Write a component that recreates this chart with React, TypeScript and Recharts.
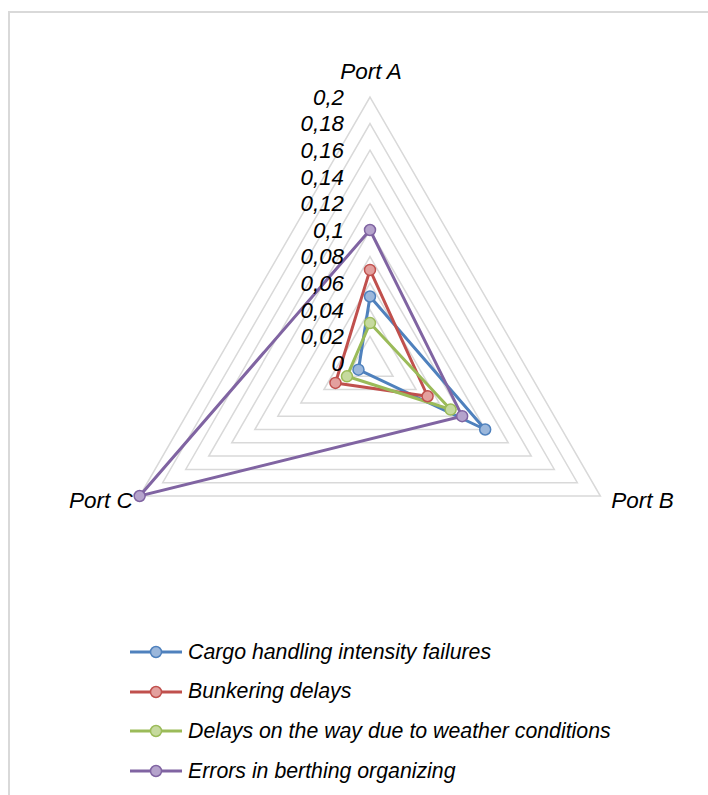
import { RadarChart, Radar, PolarGrid, PolarAngleAxis, PolarRadiusAxis, Legend } from "recharts"

const ports = ["Port A", "Port B", "Port C"]
const cargoFailures = [0.05, 0.1, 0.01]
const bunkeringDelays = [0.07, 0.05, 0.03]
const weatherDelays = [0.03, 0.07, 0.02]
const berthingErrors = [0.1, 0.08, 0.2]
const radiusTicks = [0, 0.02, 0.04, 0.06, 0.08, 0.1, 0.12, 0.14, 0.16, 0.18, 0.2]

const series = [
  { key: "cargo", name: "Cargo handling intensity failures", stroke: "#4f81bd", fill: "#9bb7db" },
  { key: "bunkering", name: "Bunkering delays", stroke: "#c0504d", fill: "#e3a09e" },
  { key: "weather", name: "Delays on the way due to weather conditions", stroke: "#9bbb59", fill: "#c6da9e" },
  { key: "berthing", name: "Errors in berthing organizing", stroke: "#8064a2", fill: "#b5a3cc" },
]

const data = ports.map((port, i) => ({
  port,
  cargo: cargoFailures[i],
  bunkering: bunkeringDelays[i],
  weather: weatherDelays[i],
  berthing: berthingErrors[i],
}))

const font = "'Liberation Sans', Arial, sans-serif"

const fmt = (v: number) => String(Number(v.toFixed(2))).replace(".", ",")

function RadiusTick(props: any) {
  const { x, y, payload } = props
  return (
    <text x={x - 26} y={y} dy="0.35em" textAnchor="end" fontFamily={font} fontStyle="italic" fontSize={22.3} fill="#000">
      {fmt(payload.value)}
    </text>
  )
}

function PortTick(props: any) {
  const { x, y, payload, textAnchor } = props
  const dx = textAnchor === "start" ? 4 : textAnchor === "end" ? 0 : 1
  const dy = textAnchor === "middle" ? -10 : 8
  return (
    <text x={x + dx} y={y + dy} textAnchor={textAnchor} fontFamily={font} fontStyle="italic" fontSize={22.5} fill="#000">
      {payload.value}
    </text>
  )
}

function LegendBox() {
  return (
    <div>
      {series.map((s) => (
        <div key={s.key} style={{ height: 39.6, display: "flex", alignItems: "center" }}>
          <svg width={52} height={14} style={{ marginRight: 6 }}>
            <line x1={0} y1={7} x2={52} y2={7} stroke={s.stroke} strokeWidth={3} />
            <circle cx={26} cy={7} r={5.5} fill={s.fill} stroke={s.stroke} strokeWidth={1.5} />
          </svg>
          <span style={{ fontFamily: font, fontStyle: "italic", fontSize: 21.3, color: "#000", whiteSpace: "nowrap" }}>
            {s.name}
          </span>
        </div>
      ))}
    </div>
  )
}

export default function App() {
  return (
    <>
      <style>{"html, body { overflow: hidden; }"}</style>
      <div
        style={{
          position: "fixed",
          left: 8,
          top: 11,
          width: 700,
          height: 784,
          borderTop: "2px solid #d9d9d9",
          borderLeft: "2px solid #d9d9d9",
          background: "#fff",
        }}
      >
        <RadarChart
          width={698}
          height={782}
          data={data}
          cx={360}
          cy={350}
          outerRadius={266}
          margin={{ top: 0, right: 0, bottom: 0, left: 0 }}
        >
          <PolarGrid gridType="polygon" radialLines={false} stroke="#d9d9d9" strokeWidth={1.5} />
          <PolarAngleAxis dataKey="port" tick={<PortTick />} tickLine={false} axisLine={false} />
          <PolarRadiusAxis
            angle={90}
            domain={[0, 0.2]}
            ticks={radiusTicks as any}
            tickCount={11}
            tick={<RadiusTick />}
            axisLine={false}
            tickLine={false}
          />
          {series.map((s) => (
            <Radar
              key={s.key}
              dataKey={s.key}
              name={s.name}
              stroke={s.stroke}
              strokeWidth={3}
              fill="none"
              fillOpacity={0}
              dot={{ r: 5.5, fill: s.fill, stroke: s.stroke, strokeWidth: 1.5, fillOpacity: 1 }}
              isAnimationActive={false}
            />
          ))}
          <Legend
            layout="vertical"
            content={() => <LegendBox />}
            wrapperStyle={{ position: "absolute", left: 120, top: 619.5, width: "auto" }}
          />
        </RadarChart>
      </div>
    </>
  )
}
